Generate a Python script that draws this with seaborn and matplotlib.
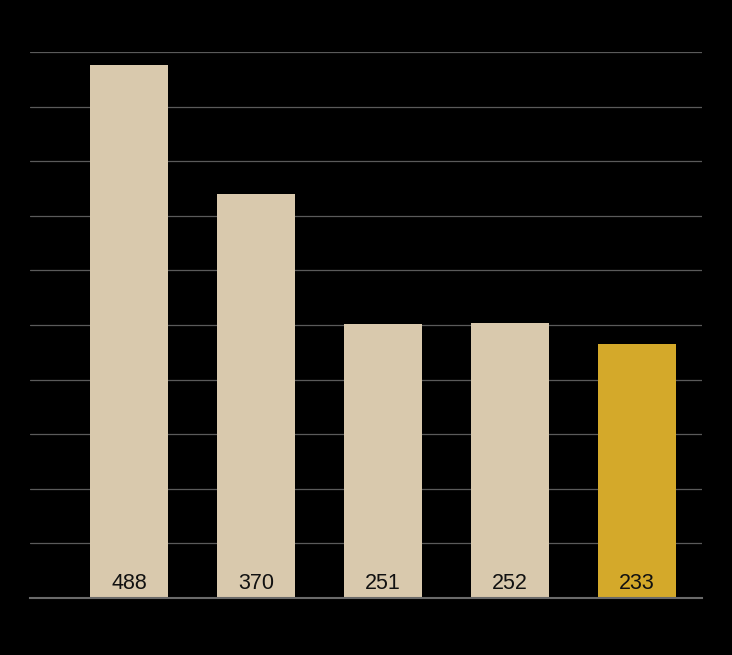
import matplotlib
matplotlib.use("Agg")
import matplotlib.pyplot as plt
import seaborn as sns
import pandas as pd

categories = ["A", "B", "C", "D", "E"]
values = [488, 370, 251, 252, 233]
colors = ["#D9C9AD", "#D9C9AD", "#D9C9AD", "#D9C9AD", "#D4A92A"]

df = pd.DataFrame({"cat": categories, "val": values})

sns.set_theme(style="white")
plt.rcParams['font.family'] = ['Liberation Sans', 'DejaVu Sans']

fig = plt.figure(figsize=(7.32, 6.55), dpi=100, facecolor="black")
ax = fig.add_axes([30/732, 57/655, 672/732, 546/655])
ax.set_facecolor("black")

sns.barplot(data=df, x="cat", y="val", hue="cat", palette=colors, legend=False,
            width=0.614, ax=ax, saturation=1, linewidth=0, edgecolor="none")

ax.set_ylim(0, 500)
ax.set_xlim(-0.78, 4.51)
ax.set_yticks(range(0, 501, 50))
ax.yaxis.grid(True, color="#5a5a5a", linewidth=0.9)
ax.set_axisbelow(True)
ax.tick_params(axis="y", colors="black", labelsize=9, length=0)
ax.set_xticks([])
ax.set_xlabel("")
ax.set_ylabel("")
for s in ["top", "right", "left"]:
    ax.spines[s].set_visible(False)
ax.spines["bottom"].set_color("#6a6a6a")
ax.spines["bottom"].set_linewidth(1.5)

for i, v in enumerate(values):
    ax.text(i, 4, str(v), ha="center", va="bottom", fontsize=15.5, color="#111111")

fig.savefig("out.png", dpi=100, facecolor="black")
